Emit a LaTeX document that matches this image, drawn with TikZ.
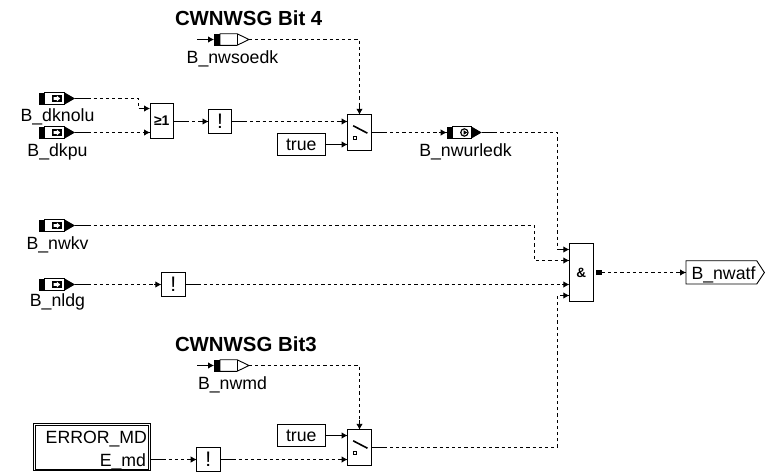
\documentclass[tikz,border=0pt]{standalone}
\usepackage{fontspec}
\setmainfont{Liberation Sans}
\usetikzlibrary{arrows.meta,shapes.geometric,calc}
\newcommand{\fs}{\fontsize{17.7}{20}\selectfont}
\newcommand{\bang}{\fontsize{21}{22}\selectfont}
\tikzset{
  box/.style={draw=black,line width=0.9pt,fill=white,inner sep=0pt,outer sep=0pt},
  blk/.style={inner sep=0pt,outer sep=0pt,minimum width=#1,minimum height=12pt},
  lbl/.style={anchor=base,inner sep=0pt,outer sep=0pt,font=\fs},
  ttl/.style={anchor=base west,inner sep=0pt,outer sep=0pt,font=\fontsize{20.4}{22}\selectfont\bfseries},
  wire/.style={line width=0.9pt,dash pattern=on 3.2pt off 3pt},
  stub/.style={line width=0.9pt},
  tip/.style={line width=0.9pt,-{Latex[length=6pt,width=6.5pt]}},
  pt/.style={inner sep=0pt,outer sep=0pt,minimum size=0pt}
}
\newcommand{\inblk}[3]{%
  \node[blk=36.5pt] (#1) at (#2,#3) {};
  \begin{scope}[shift={(#2,#3)}]
    \fill[black] (-18.25,-6) rectangle (-12.2,6);
    \draw[line width=0.9pt,fill=white] (-12.2,-5.8) rectangle (7.5,5.8);
    \fill[black] (7.5,-6.2) -- (18.25,0) -- (7.5,6.2) -- cycle;
    \fill[black] (-4.75,-3.8) rectangle (4.75,3.8);
    \fill[white] (-3.2,-1.3) -- (0,-1.3) -- (0,-3) -- (3.4,0) -- (0,3) -- (0,1.3) -- (-3.2,1.3) -- cycle;
  \end{scope}}
\newcommand{\rxblk}[3]{%
  \node[blk=35pt] (#1) at (#2,#3) {};
  \begin{scope}[shift={(#2,#3)}]
    \fill[black] (-17.5,-6) rectangle (-11.5,6);
    \draw[line width=0.9pt,fill=white] (-11.5,-5.8) -- (5.5,-5.8) -- (17.5,0) -- (5.5,5.8) -- (-11.5,5.8) -- cycle;
    \draw[line width=0.9pt] (5.5,-5.8) -- (5.5,5.8);
  \end{scope}}
\newcommand{\swsym}[1]{%
  \draw[line width=1.6pt] ($(#1.north west)+(5.6,11)$) -- ($(#1.north west)+(19.8,18.4)$);
  \draw[line width=0.8pt] ($(#1.north west)+(5.6,21.8)$) rectangle ($(#1.north west)+(8.6,24.8)$);}
\begin{document}
\begin{tikzpicture}[x=1pt,y=-1pt]
\useasboundingbox (0,0) rectangle (765,472);
\fill[white] (0,0) rectangle (765,472);

\node[ttl] (t1) at (175,25) {CWNWSG Bit 4};
\node[ttl] (t2) at (175,351) {CWNWSG Bit3};

\inblk{dknolu}{56.75}{98.5}
\inblk{dkpu}{56.75}{132.5}
\inblk{nwkv}{56.75}{225.5}
\inblk{nldg}{56.75}{284.5}
\rxblk{nwsoedk}{231.5}{39.5}
\rxblk{nwmd}{231.5}{365.5}
\node[lbl] (l1) at (57.5,121) {B\_dknolu};
\node[lbl] (l2) at (57.5,156.5) {B\_dkpu};
\node[lbl] (l3) at (57.5,249) {B\_nwkv};
\node[lbl] (l4) at (57.5,306.5) {B\_nldg};
\node[lbl] (l5) at (232.5,63) {B\_nwsoedk};
\node[lbl] (l6) at (232.5,389) {B\_nwmd};

\node[blk=35pt] (nwurl) at (464.2,132.5) {};
\fill[black] (446.7,126.5) rectangle (452.5,138.5);
\draw[line width=0.9pt,fill=white] (452.5,126.7) rectangle (471,138.3);
\fill[black] (471,126.3) -- (481.7,132.5) -- (471,138.7) -- cycle;
\fill[black] (464.4,132.5) circle[radius=4.3];
\fill[white] (464.4,132.5) circle[radius=2.9];
\fill[black] (463.6,130.2) -- (467.2,132.5) -- (463.6,134.8) -- cycle;
\node[lbl] (l7) at (465.5,156.5) {B\_nwurledk};

\node[box,minimum width=23.5pt,minimum height=34.5pt,font=\fontsize{14}{15}\selectfont\bfseries] (or) at (161.75,120.75) {≥1};
\node[box,minimum width=23pt,minimum height=23.5pt,font=\bang] (not1) at (220,121.5) {!};
\node[box,minimum width=23.8pt,minimum height=35.5pt] (sw1) at (359.5,132.5) {};
\swsym{sw1}
\node[box,minimum width=47.3pt,minimum height=21.5pt,font=\fs] (true1) at (301.3,144.5) {true};

\node[box,minimum width=23.7pt,minimum height=23.7pt,font=\bang] (not2) at (173.2,284.5) {!};
\node[box,minimum width=23.7pt,minimum height=58.4pt,font=\fontsize{13.5}{15}\selectfont\bfseries] (and) at (581.2,272.5) {\&};
\coordinate (anda) at (569.3,249.5);
\coordinate (andb) at (569.3,260.5);
\coordinate (andd) at (569.3,295.5);

\node[box,minimum width=23.8pt,minimum height=35.4pt] (sw2) at (359.5,447.5) {};
\swsym{sw2}
\node[box,minimum width=47.3pt,minimum height=21.6pt,font=\fs] (true2) at (301.3,435.5) {true};
\node[box,minimum width=23.4pt,minimum height=23.4pt,font=\bang] (not3) at (208.4,459.5) {!};

\node[box,minimum width=116.7pt,minimum height=47.4pt] (err) at (91.6,447) {};
\draw[line width=0.9pt] (35,425) rectangle (148.3,469);
\node[lbl,anchor=base east] (e1) at (147,443) {ERROR\_MD};
\node[lbl,anchor=base east] (e2) at (146,466) {E\_md};

\node[pt] (watfw) at (686,272.5) {};
\draw[line width=0.9pt,fill=white] (686,260.7) -- (756.7,260.7) -- (764.4,272.5) -- (756.7,284) -- (686,284) -- cycle;
\node[lbl,anchor=base west] (wtxt) at (691.5,279) {B\_nwatf};

\node[fill=black,inner sep=0pt,minimum size=5.6pt] (andout) at (598.8,272.5) {};

\coordinate (c1) at (138.5,98.5);
\coordinate (c2) at (138.5,108.5);
\coordinate (orin) at (150,108.5);
\draw[wire] (dknolu.east) -- (c1) -- (c2);
\draw[stub] (dknolu.east) -- ++(14,0);
\draw[tip] (c2) -- (orin);

\draw[wire] (dkpu.east) -- (dkpu.east -| or.west);
\draw[stub] (dkpu.east) -- ++(14,0);
\draw[tip] ($(dkpu.east -| or.west)+(-6,0)$) -- (dkpu.east -| or.west);

\draw[wire] (or.east |- not1.west) -- (not1.west);
\draw[stub] (or.east |- not1.west) -- ++(14,0);
\draw[tip] ($(not1.west)+(-9,0)$) -- (not1.west);

\draw[wire] (not1.east) -- (not1.east -| sw1.west);
\draw[stub] (not1.east) -- ++(14,0);
\draw[tip] ($(not1.east -| sw1.west)+(-8,0)$) -- (not1.east -| sw1.west);

\draw[tip] (true1.east) -- (true1.east -| sw1.west);

\coordinate (s1) at (sw1.north |- nwsoedk.east);
\draw[stub] ($(nwsoedk.west)+(-17,0)$) -- ($(nwsoedk.west)+(-6,0)$);
\draw[tip] ($(nwsoedk.west)+(-8,0)$) -- (nwsoedk.west);
\draw[wire] (nwsoedk.east) -- (s1) -- (sw1.north);
\draw[tip] ($(sw1.north)+(0,-10)$) -- (sw1.north);

\draw[wire] (sw1.east) -- (nwurl.west);
\draw[stub] (sw1.east) -- ++(14,0);
\draw[tip] ($(nwurl.west)+(-8,0)$) -- (nwurl.west);

\coordinate (c3) at (557.5,132.5);
\coordinate (c3b) at (557.5,249.5);
\draw[wire] (nwurl.east) -- (c3) -- (c3b) -- (anda);
\draw[stub] (nwurl.east) -- ++(14,0);
\draw[tip] ($(anda)+(-11,0)$) -- (anda);

\coordinate (c4) at (534.5,225.5);
\coordinate (c5) at (534.5,260.5);
\draw[wire] (nwkv.east) -- (c4) -- (c5) -- (andb);
\draw[stub] (nwkv.east) -- ++(14,0);
\draw[tip] ($(andb)+(-7,0)$) -- (andb);

\draw[wire] (nldg.east) -- (not2.west);
\draw[stub] (nldg.east) -- ++(14,0);
\draw[tip] ($(not2.west)+(-7,0)$) -- (not2.west);
\draw[wire] (not2.east) -- (not2.east -| and.west);
\draw[stub] (not2.east) -- ++(14,0);
\draw[tip] ($(not2.east -| and.west)+(-7,0)$) -- (not2.east -| and.west);

\coordinate (s2) at (sw2.north |- nwmd.east);
\draw[stub] ($(nwmd.west)+(-17,0)$) -- ($(nwmd.west)+(-6,0)$);
\draw[tip] ($(nwmd.west)+(-8,0)$) -- (nwmd.west);
\draw[wire] (nwmd.east) -- (s2) -- (sw2.north);
\draw[tip] ($(sw2.north)+(0,-10)$) -- (sw2.north);

\draw[tip] (true2.east) -- (true2.east -| sw2.west);

\draw[wire] (err.east |- not3.west) -- (not3.west);
\draw[stub] (err.east |- not3.west) -- ++(14,0);
\draw[tip] ($(not3.west)+(-7,0)$) -- (not3.west);
\draw[wire] (not3.east) -- (not3.east -| sw2.west);
\draw[stub] (not3.east) -- ++(14,0);
\draw[tip] ($(not3.east -| sw2.west)+(-7,0)$) -- (not3.east -| sw2.west);

\coordinate (c6) at (557.5,447.5);
\coordinate (c6b) at (557.5,295.5);
\draw[wire] (sw2.east) -- (c6) -- (c6b) -- (andd);
\draw[stub] (sw2.east) -- ++(14,0);
\draw[tip] ($(andd)+(-9,0)$) -- (andd);

\draw[wire] (andout.east) -- (watfw.west |- andout.east);
\draw[tip] ($(watfw)+(-8,0)$) -- (watfw);
\end{tikzpicture}
\end{document}
